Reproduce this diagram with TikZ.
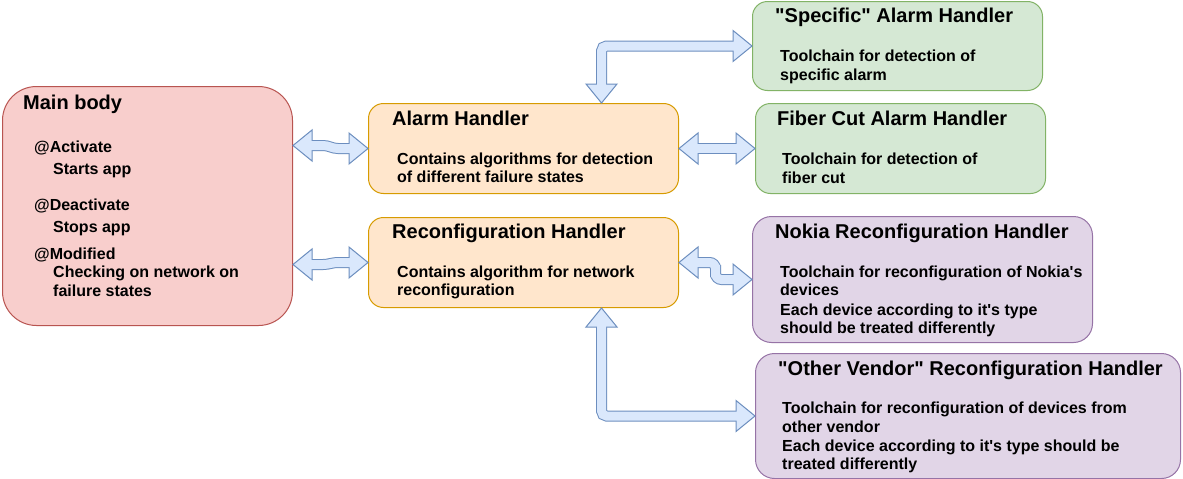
\documentclass[tikz,border=0pt]{standalone}
\usepackage{fontspec}
\setmainfont{Liberation Sans}[Ligatures=TeXOff]
\usetikzlibrary{calc}
\definecolor{redfill}{HTML}{F8CECC}\definecolor{redline}{HTML}{B85450}
\definecolor{orafill}{HTML}{FFE6CC}\definecolor{oraline}{HTML}{D79B00}
\definecolor{grnfill}{HTML}{D5E8D4}\definecolor{grnline}{HTML}{82B366}
\definecolor{purfill}{HTML}{E1D5E7}\definecolor{purline}{HTML}{9673A6}
\definecolor{blufill}{HTML}{DAE8FC}\definecolor{bluline}{HTML}{6C8EBF}
\newcommand\fatR[1]{\path[headst] (#1) -- ++(-19,-15.5) -- ++(0,31) -- cycle;}
\newcommand\fatL[1]{\path[headst] (#1) -- ++(19,-15.5) -- ++(0,31) -- cycle;}
\newcommand\fatD[1]{\path[headst] (#1) -- ++(-15.5,-19) -- ++(31,0) -- cycle;}
\newcommand\fatU[1]{\path[headst] (#1) -- ++(-15.5,19) -- ++(31,0) -- cycle;}
\begin{document}
\begin{tikzpicture}[x=1pt,y=-1pt,
  box/.style={draw, line width=1pt, inner sep=0pt, anchor=north west, rectangle},
  redbox/.style={box, fill=redfill, draw=redline},
  orabox/.style={box, fill=orafill, draw=oraline},
  grnbox/.style={box, fill=grnfill, draw=grnline},
  purbox/.style={box, fill=purfill, draw=purline},
  headst/.style={fill=blufill, draw=bluline, line width=1pt, line join=miter},
  shaftout/.style={draw=bluline, line width=11pt},
  shaftin/.style={draw=blufill, line width=9pt},
  ttl/.style={anchor=base west, inner sep=0pt, font=\fontsize{20}{24}\selectfont\bfseries},
  txt/.style={anchor=base west, inner sep=0pt, font=\fontsize{16}{19}\selectfont\bfseries}]
\useasboundingbox[fill=white] (0,0) rectangle (1183,479);

% boxes
\node[redbox, minimum width=290pt, minimum height=239pt, rounded corners=34pt] (main) at (2,86) {};
\node[orabox, minimum width=310pt, minimum height=90pt, rounded corners=15pt] (alarm) at (368,103) {};
\node[orabox, minimum width=310pt, minimum height=90pt, rounded corners=15pt] (reconf) at (368,217) {};
\node[grnbox, minimum width=290pt, minimum height=89pt, rounded corners=15pt] (spec) at (752,1) {};
\node[grnbox, minimum width=290pt, minimum height=90pt, rounded corners=15pt] (fiber) at (755,103) {};
\node[purbox, minimum width=340pt, minimum height=126pt, rounded corners=19pt] (nokia) at (752,216) {};
\node[purbox, minimum width=425pt, minimum height=125pt, rounded corners=19pt] (other) at (755,353) {};

% texts
\node[ttl] (mt) at (23,109) {Main body};
\node[txt] (m1) at (34,152) {@Activate};
\node[txt] (m2) at (53,174) {Starts app};
\node[txt] (m3) at (34,210) {@Deactivate};
\node[txt] (m4) at (53,232) {Stops app};
\node[txt] (m5) at (34,259) {@Modified};
\node[txt] (m6) at (53,277) {Checking on network on};
\node[txt] (m7) at (53,296) {failure states};

\node[ttl] (at) at (392,125) {Alarm Handler};
\node[txt] (a1) at (397,164) {Contains algorithms for detection};
\node[txt] (a2) at (397,182) {of different failure states};

\node[ttl] (rt) at (392,238) {Reconfiguration Handler};
\node[txt] (r1) at (397,277) {Contains algorithm for network};
\node[txt] (r2) at (397,295) {reconfiguration};

\node[ttl] (st) at (775,23) {"Specific" Alarm Handler};
\node[txt] (s1) at (780,61) {Toolchain for detection of};
\node[txt] (s2) at (780,80) {specific alarm};

\node[ttl] (ft) at (777,125) {Fiber Cut Alarm Handler};
\node[txt] (f1) at (782,164) {Toolchain for detection of};
\node[txt] (f2) at (782,183) {fiber cut};

\node[ttl] (nt) at (775,238) {Nokia Reconfiguration Handler};
\node[txt] (n1) at (780,277) {Toolchain for reconfiguration of Nokia's};
\node[txt] (n2) at (780,295) {devices};
\node[txt] (n3) at (780,315) {Each device according to it's type};
\node[txt] (n4) at (780,333) {should be treated differently};

\node[ttl] (ot) at (778,375) {"Other Vendor" Reconfiguration Handler};
\node[txt] (o1) at (782,413) {Toolchain for reconfiguration of devices from};
\node[txt] (o2) at (782,432) {other vendor};
\node[txt] (o3) at (782,451) {Each device according to it's type should be};
\node[txt] (o4) at (782,469) {treated differently};

% connector end points
\coordinate (p1l) at ($(main.east)+(0,-60.5)$);
\coordinate (p1r) at (alarm.west);
\coordinate (p2l) at ($(main.east)+(0,58.5)$);
\coordinate (p2r) at (reconf.west);
\coordinate (p3l) at (alarm.east);
\coordinate (p3r) at (fiber.west);
\coordinate (p4l) at (reconf.east);
\coordinate (p4r) at (nokia.west);
\coordinate (p5d) at ($(alarm.north)+(78,0)$);
\coordinate (p5r) at (spec.west);
\coordinate (p6u) at ($(reconf.south)+(78,0)$);
\coordinate (p6r) at (other.west);

% arrow 1
\draw[shaftout] ($(p1l)+(16,0)$) -- ($(p1l)+(30,0)$) to[out=0,in=180] ($(p1r)+(-30,0)$) -- ($(p1r)+(-16,0)$);
\fatL{p1l}\fatR{p1r}
\draw[shaftin] ($(p1l)+(16,0)$) -- ($(p1l)+(30,0)$) to[out=0,in=180] ($(p1r)+(-30,0)$) -- ($(p1r)+(-16,0)$);
% arrow 2
\draw[shaftout] ($(p2l)+(16,0)$) -- ($(p2l)+(30,0)$) to[out=0,in=180] ($(p2r)+(-30,0)$) -- ($(p2r)+(-16,0)$);
\fatL{p2l}\fatR{p2r}
\draw[shaftin] ($(p2l)+(16,0)$) -- ($(p2l)+(30,0)$) to[out=0,in=180] ($(p2r)+(-30,0)$) -- ($(p2r)+(-16,0)$);
% arrow 3
\draw[shaftout] ($(p3l)+(16,0)$) -- ($(p3r)+(-16,0)$);
\fatL{p3l}\fatR{p3r}
\draw[shaftin] ($(p3l)+(16,0)$) -- ($(p3r)+(-16,0)$);
% arrow 4
\draw[shaftout, rounded corners=6pt] ($(p4l)+(16,0)$) -| ($(p4l)!0.5!(p4r)$) |- ($(p4r)+(-16,0)$);
\fatL{p4l}\fatR{p4r}
\draw[shaftin, rounded corners=6pt] ($(p4l)+(16,0)$) -| ($(p4l)!0.5!(p4r)$) |- ($(p4r)+(-16,0)$);
% arrow 5
\draw[shaftout, rounded corners=5pt] ($(p5d)+(0,-16)$) |- ($(p5r)+(-16,0)$);
\fatD{p5d}\fatR{p5r}
\draw[shaftin, rounded corners=5pt] ($(p5d)+(0,-16)$) |- ($(p5r)+(-16,0)$);
% arrow 6
\draw[shaftout, rounded corners=5pt] ($(p6u)+(0,16)$) |- ($(p6r)+(-16,0)$);
\fatU{p6u}\fatR{p6r}
\draw[shaftin, rounded corners=5pt] ($(p6u)+(0,16)$) |- ($(p6r)+(-16,0)$);
\end{tikzpicture}
\end{document}
